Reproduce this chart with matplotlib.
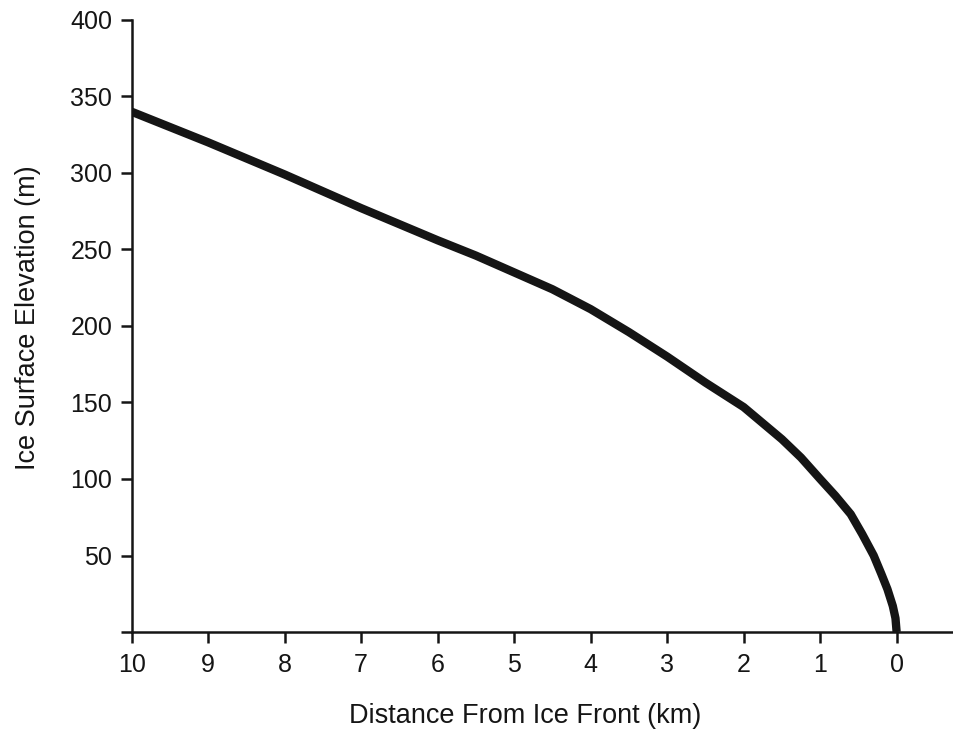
import matplotlib
matplotlib.use("Agg")
import matplotlib.pyplot as plt

# distance from ice front (km) and surface elevation (m)
distance_km = [10, 9, 8, 7, 6, 5.5, 5, 4.5, 4, 3.5, 3, 2.5, 2, 1.5, 1.25, 1,
               0.8, 0.6, 0.45, 0.3, 0.2, 0.12, 0.05, 0.015, 0]
elevation_m = [340, 320, 299, 277, 256, 246, 235, 224, 211, 196, 180, 163, 147, 126, 114, 100,
               89, 77, 64, 50, 38, 28, 17, 9, 0]

y_ticks = [0, 50, 100, 150, 200, 250, 300, 350, 400]
y_tick_labels = ["", "50", "100", "150", "200", "250", "300", "350", "400"]
x_ticks = [10, 9, 8, 7, 6, 5, 4, 3, 2, 1, 0]

plt.rcParams["font.family"] = ["Liberation Sans", "DejaVu Sans"]

fig = plt.figure(figsize=(9.54, 7.38), dpi=100)
ax = fig.add_axes([0.138, 0.1436, 0.862, 0.8294])

ax.plot(distance_km, elevation_m, color="#151515", linewidth=6,
        solid_capstyle="butt", solid_joinstyle="round")

ax.set_xlim(10, -0.75)
ax.set_ylim(0, 400)
ax.set_xticks(x_ticks)
ax.set_yticks(y_ticks)
ax.set_yticklabels(y_tick_labels)

for side in ["top", "right"]:
    ax.spines[side].set_visible(False)
for side in ["left", "bottom"]:
    ax.spines[side].set_linewidth(1.8)
    ax.spines[side].set_color("#151515")

ax.tick_params(axis="both", direction="out", length=8, width=1.8,
               labelsize=18, color="#151515", labelcolor="#151515")
ax.tick_params(axis="y", pad=6)
ax.tick_params(axis="x", pad=7)

ax.set_xlabel("Distance From Ice Front (km)", fontsize=19.5, labelpad=19,
              color="#151515")
ax.set_ylabel("Ice Surface Elevation (m)", fontsize=19.5, labelpad=21,
              color="#151515")
ax.xaxis.label.set_x(0.479)
ax.yaxis.label.set_y(0.513)

fig.savefig("out.png", dpi=100)
